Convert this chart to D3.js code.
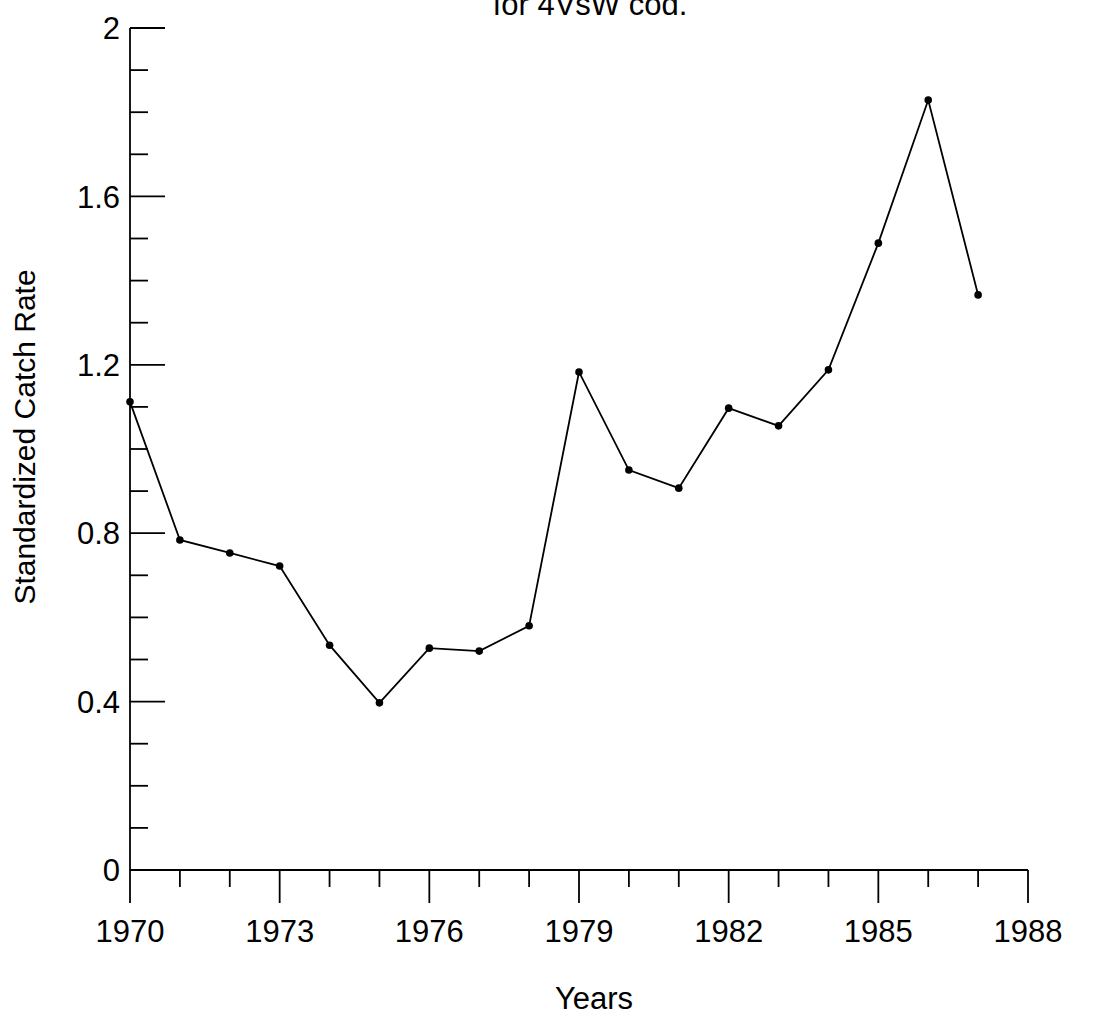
<!DOCTYPE html>
<html><head><meta charset="utf-8">
<script src="https://cdn.jsdelivr.net/npm/d3@7"></script>
<style>body{margin:0;background:#fff}svg{display:block}text{font-family:"Liberation Sans",Arial,sans-serif;fill:#000}</style>
</head><body>
<script>
const years = [1970,1971,1972,1973,1974,1975,1976,1977,1978,1979,1980,1981,1982,1983,1984,1985,1986,1987];
const catchRate = [1.112,0.784,0.753,0.722,0.534,0.397,0.527,0.520,0.580,1.183,0.950,0.907,1.097,1.055,1.188,1.489,1.829,1.366];
const yTickLabels = [0,0.4,0.8,1.2,1.6,2];
const xTickLabels = [1970,1973,1976,1979,1982,1985,1988];
const title = "for 4VsW cod.";

const W=1098,H=1021;
const svg=d3.select("body").append("svg").attr("width",W).attr("height",H);
const x=d3.scaleLinear().domain([1970,1988]).range([130,1028]);
const y=d3.scaleLinear().domain([0,2]).range([870,28]);
const FS=31;

// axes lines
svg.append("line").attr("x1",x(1970)).attr("x2",x(1970)).attr("y1",y(2)).attr("y2",y(0)).attr("stroke","#000").attr("stroke-width",1.8);
svg.append("line").attr("x1",x(1970)).attr("x2",x(1988)).attr("y1",y(0)).attr("y2",y(0)).attr("stroke","#000").attr("stroke-width",1.8);

// y ticks
const yMinor=d3.range(0,21).map(i=>i/10);
svg.selectAll(".yt").data(yMinor).enter().append("line")
 .attr("x1",x(1970)).attr("x2",d=>x(1970)+(yTickLabels.some(v=>Math.abs(v-d)<1e-9)?35:18))
 .attr("y1",d=>y(d)).attr("y2",d=>y(d)).attr("stroke","#000").attr("stroke-width",1.8);
svg.selectAll(".yl").data(yTickLabels).enter().append("text")
 .attr("x",120).attr("y",d=>y(d)).attr("dy","0.36em").attr("text-anchor","end")
 .attr("font-size",FS).text(d=>d===0||d===2?String(d):d3.format(".1f")(d));

// x ticks
const xMinor=d3.range(1970,1989);
svg.selectAll(".xt").data(xMinor).enter().append("line")
 .attr("x1",d=>x(d)).attr("x2",d=>x(d)).attr("y1",y(0))
 .attr("y2",d=>y(0)+(xTickLabels.includes(d)?33:17)).attr("stroke","#000").attr("stroke-width",1.8);
svg.selectAll(".xl").data(xTickLabels).enter().append("text")
 .attr("x",d=>x(d)).attr("y",942).attr("text-anchor","middle").attr("font-size",FS).text(d=>d);

// labels
svg.append("text").attr("x",594).attr("y",1009).attr("text-anchor","middle").attr("font-size",FS).text("Years");
svg.append("text").attr("transform","translate(35,437) rotate(-90)").attr("text-anchor","middle").attr("font-size",30).text("Standardized Catch Rate");
svg.append("text").attr("x",590).attr("y",15).attr("text-anchor","middle").attr("font-size",FS).text(title);

// line + points
const data=years.map((yr,i)=>({yr,v:catchRate[i]}));
svg.append("path").datum(data).attr("fill","none").attr("stroke","#000").attr("stroke-width",1.8)
 .attr("d",d3.line().x(d=>x(d.yr)).y(d=>y(d.v)));
svg.selectAll(".pt").data(data).enter().append("circle")
 .attr("cx",d=>x(d.yr)).attr("cy",d=>y(d.v)).attr("r",3.8).attr("fill","#000");
</script>
</body></html>
